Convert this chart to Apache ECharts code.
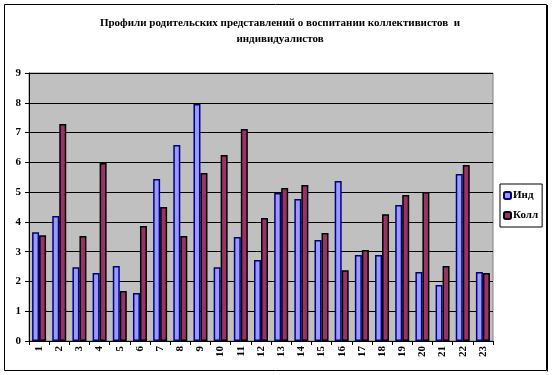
<!DOCTYPE html>
<html><head><meta charset="utf-8">
<script src="https://cdn.jsdelivr.net/npm/echarts@6/dist/echarts.min.js"></script>
<style>html,body{margin:0;padding:0;background:#fff}#c{width:553px;height:375px}</style>
</head><body><div id="c"></div>
<script>
const categories = ['1','2','3','4','5','6','7','8','9','10','11','12','13','14','15','16','17','18','19','20','21','22','23'];
const indValues = [3.65,4.2,2.48,2.28,2.52,1.61,5.44,6.58,7.96,2.48,3.49,2.72,4.97,4.77,3.39,5.37,2.89,2.89,4.57,2.32,1.88,5.61,2.32];
const kollValues = [3.55,7.29,3.53,5.98,1.68,3.86,4.5,3.53,5.64,6.25,7.12,4.13,5.14,5.24,3.63,2.38,3.06,4.26,4.9,5.0,2.52,5.91,2.28];
const yTicks = [0,1,2,3,4,5,6,7,8,9];
const seriesNames = ['Инд','Колл'];
const font = '"Liberation Serif","Times New Roman",serif';
const chart = echarts.init(document.getElementById('c'));
chart.setOption({
  animation:false,
  title:{text:'Профили родительских представлений о воспитании коллективистов  и\nиндивидуалистов',
    left:275, top:10, textAlign:'center',
    textStyle:{fontFamily:font,fontSize:11,fontWeight:'bold',color:'#000',lineHeight:16}},
  graphic:[
    {type:'rect',shape:{x:4.5,y:4.5,width:542,height:366},style:{fill:'none',stroke:'#000',lineWidth:1},silent:true},
    {type:'line',shape:{x1:547.5,y1:5,x2:547.5,y2:371.5},style:{stroke:'#000',lineWidth:1},silent:true}
  ],
  legend:{data:seriesNames,orient:'vertical',left:500,top:184,itemWidth:7,itemHeight:7,itemGap:9,
    padding:[6,4,6,3],borderColor:'#000',borderWidth:1,
    textStyle:{fontFamily:font,fontSize:11,fontWeight:'bold',color:'#000',padding:[0,0,0,-3]}},
  grid:{left:29,right:60,top:73,bottom:34,containLabel:false,show:true,backgroundColor:'#C0C0C0',borderColor:'#808080',borderWidth:1},
  xAxis:{type:'category',data:categories,
    axisLine:{lineStyle:{color:'#000',width:1}},
    axisTick:{show:true,alignWithLabel:false,lineStyle:{color:'#000'},length:4},
    axisLabel:{rotate:90,fontFamily:font,fontSize:11,fontWeight:'bold',color:'#000',margin:5}},
  yAxis:{type:'value',min:0,max:9,interval:1,
    axisLine:{show:true,lineStyle:{color:'#000'}},
    axisTick:{show:true,lineStyle:{color:'#000'},length:4},
    splitLine:{lineStyle:{color:'#000',width:1}},
    axisLabel:{fontFamily:font,fontSize:11,fontWeight:'bold',color:'#000',margin:8}},
  series:[
    {name:seriesNames[0],type:'bar',data:indValues,barWidth:7,barGap:'0%',
     itemStyle:{color:'#9999FF',borderColor:'#000080',borderWidth:1.5}},
    {name:seriesNames[1],type:'bar',data:kollValues,barWidth:7,
     itemStyle:{color:'#993366',borderColor:'#000',borderWidth:1.5}}
  ]
});
</script></body></html>
